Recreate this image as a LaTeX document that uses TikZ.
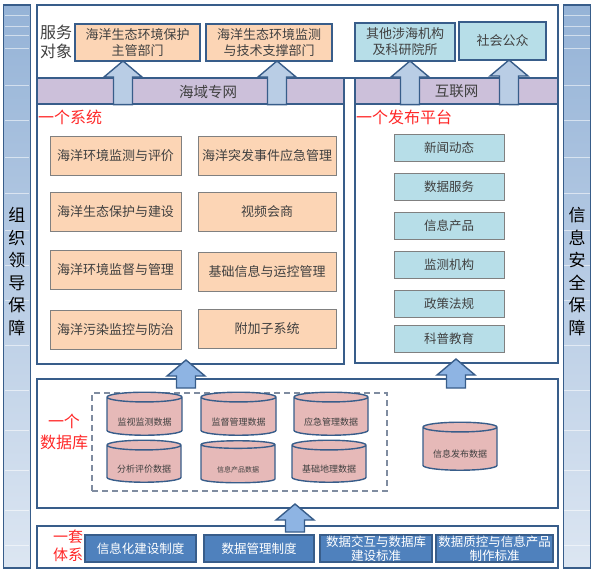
\documentclass[tikz,border=0pt]{standalone}
\usepackage{fontspec}
\setmainfont{Noto Sans CJK SC}
\usetikzlibrary{shapes.geometric,calc}

\definecolor{frameblue}{RGB}{56,93,138}
\definecolor{peach}{RGB}{252,213,181}
\definecolor{paleteal}{RGB}{183,222,232}
\definecolor{netlilac}{RGB}{204,192,218}
\definecolor{arrowpale}{RGB}{185,205,229}
\definecolor{arrowmid}{RGB}{142,180,227}
\definecolor{dbrose}{RGB}{230,185,184}
\definecolor{normblue}{RGB}{79,129,189}
\definecolor{bartop}{RGB}{149,179,215}
\definecolor{barbottom}{RGB}{220,230,242}
\definecolor{titlered}{RGB}{255,40,40}
\definecolor{inktext}{RGB}{64,64,64}
\definecolor{edgegrey}{RGB}{128,128,128}
\definecolor{dashgrey}{RGB}{127,140,160}

\tikzset{
  panel/.style={draw=frameblue, line width=1.8pt, inner sep=0},
  sidebar/.style={draw=frameblue, line width=1.2pt, top color=bartop, bottom color=barbottom,
    minimum width=27, minimum height=563, inner sep=0},
  sidetext/.style={align=center, font=\fontsize{17}{22.6}\selectfont},
  svcbox/.style={draw=frameblue, line width=1.6pt, align=center, inner sep=0,
    text=inktext, font=\fontsize{13}{16}\selectfont},
  netband/.style={draw=frameblue, line width=1.2pt, fill=netlilac, inner sep=0, minimum height=26},
  nettext/.style={text=inktext, font=\fontsize{14.5}{16}\selectfont},
  sysbox/.style={draw=edgegrey, line width=1pt, fill=peach, inner sep=0, minimum height=39,
    text=inktext, font=\fontsize{13}{15}\selectfont},
  pubbox/.style={draw=edgegrey, line width=1pt, fill=paleteal, inner sep=0, minimum width=110,
    minimum height=27, text=inktext, font=\fontsize{12.5}{15}\selectfont},
  redtitle/.style={text=titlered, align=center, inner sep=0, font=\fontsize{16}{21}\selectfont},
  dbcyl/.style={cylinder, shape border rotate=90, aspect=0.18, draw=frameblue, line width=1.4pt,
    fill=dbrose, inner sep=0, text height=17pt, text depth=0pt, text=inktext,
    font=\fontsize{9}{10}\selectfont},
  normbox/.style={draw=frameblue, line width=1.2pt, fill=normblue, inner sep=0, minimum height=27,
    text=white, align=center, font=\fontsize{12.5}{13.5}\selectfont},
  blockline/.style={draw=frameblue, line width=1.4pt, line join=miter},
}

% block arrow pointing up: #1 fill, #2 tip, #3 foot (only its y is used)
\newcommand{\blockup}[3]{%
  \draw[blockline, fill=#1] (#2) -- ($(#2)+(19,16)$) -- ($(#2)+(9.5,16)$)
    -- ($(#2 |- #3)+(9.5,0)$) -- ($(#2 |- #3)+(-9.5,0)$)
    -- ($(#2)+(-9.5,16)$) -- ($(#2)+(-19,16)$) -- cycle;}

\begin{document}
\begin{tikzpicture}[x=1pt, y=-1pt]
    \useasboundingbox (0,0) rectangle (595,574);
    % side bars
    \node[sidebar] (leftbar) at (17,286.5) {};
    \node[sidebar] (rightbar) at (577,286.5) {};
    \foreach \yy in {15,26,35,48,85,120,157,193,230,265,300,345,390,430,470,510,545}
      \draw[white, opacity=0.55, line width=0.6pt] (5,\yy) -- (29,\yy) (564,\yy) -- (590,\yy);
    \node[sidetext] (leftbartext) at (17,271.5) {组\\织\\领\\导\\保\\障};
    \node[sidetext] (rightbartext) at (577,271.5) {信\\息\\安\\全\\保\\障};

    % service objects
    \node[panel, minimum width=521, minimum height=73] (topframe) at (297.5,41.5) {};
    \node[text=inktext, align=center, inner sep=0, font=\fontsize{16}{19}\selectfont] (svctitle) at (56,42) {服务\\对象};
    \node[svcbox, fill=peach, minimum width=125, minimum height=37] (svc1) at (137.5,42.5) {海洋生态环境保护\\主管部门};
    \node[svcbox, fill=peach, minimum width=126, minimum height=37] (svc2) at (269,42.5) {海洋生态环境监测\\与技术支撑部门};
    \node[svcbox, fill=paleteal, minimum width=100, minimum height=38] (svc3) at (405,42) {其他涉海机构\\及科研院所};
    \node[svcbox, fill=paleteal, minimum width=87, minimum height=38] (svc4) at (502.5,41) {社会公众};

    % networks
    \node[netband, minimum width=307] (seanet) at (190.5,91) {};
    \node[nettext] (seanettext) at (208,92) {海域专网};
    \node[netband, minimum width=203, nettext] (webnet) at (456.5,91) {互联网};

    % one system
    \node[panel, minimum width=307, minimum height=260] (sysframe) at (190.5,234) {};
    \node[redtitle, anchor=west] (systitle) at (38,117) {一个系统};
    \foreach \name/\cx/\cy/\w/\txt in {sysA/115.5/155.5/131/海洋环境监测与评价,
        sysB/115.5/211.5/131/海洋生态保护与建设, sysC/115.5/270/131/海洋环境监督与管理,
        sysD/115.5/329.5/131/海洋污染监控与防治, sysE/267/155.5/138/海洋突发事件应急管理,
        sysF/267/211.5/138/视频会商, sysG/267/271.5/138/基础信息与运控管理,
        sysH/267/328.5/138/附加子系统}
      \node[sysbox, minimum width=\w] (\name) at (\cx,\cy) {\txt};

    % one publishing platform
    \node[panel, minimum width=203, minimum height=259] (pubframe) at (456.5,233.5) {};
    \node[redtitle, anchor=west] (pubtitle) at (356,117) {一个发布平台};
    \foreach \name/\cy/\txt in {pubA/147.5/新闻动态, pubB/186.5/数据服务, pubC/226/信息产品,
        pubD/265/监测机构, pubE/304/政策法规, pubF/338.5/科普教育}
      \node[pubbox] (\name) at (449,\cy) {\txt};

    % one database
    \node[panel, minimum width=521, minimum height=129] (dbframe) at (297.5,443.5) {};
    \node[redtitle] (dbtitle) at (64,432) {一个\\数据库};
    \node[draw=dashgrey, dashed, dash pattern=on 6pt off 4pt, line width=1.5pt,
      minimum width=295, minimum height=98, inner sep=0] (dbgroup) at (239.5,442) {};
    \node[dbcyl, minimum width=75, minimum height=43] (cylA) at (144.5,416.5) {监视监测数据};
    \node[dbcyl, minimum width=75, minimum height=43] (cylB) at (238.5,416.5) {监督管理数据};
    \node[dbcyl, minimum width=74, minimum height=43] (cylC) at (331,416.5) {应急管理数据};
    \node[dbcyl, minimum width=74, minimum height=42] (cylD) at (144,464) {分析评价数据};
    \node[dbcyl, minimum width=74, minimum height=42, font=\fontsize{7}{8}\selectfont] (cylE) at (238,464) {信息产品数据};
    \node[dbcyl, minimum width=74, minimum height=42] (cylF) at (329,464) {基础地理数据};
    \node[dbcyl, minimum width=74, minimum height=48] (cylG) at (460,449) {信息发布数据};

    % one set of norms
    \node[panel, minimum width=521, minimum height=42] (normframe) at (297.5,547) {};
    \node[redtitle, font=\fontsize{15}{18}\selectfont] (normtitle) at (68,546) {一套\\体系};
    \node[normbox, minimum width=111] (normA) at (140.5,548.5) {信息化建设制度};
    \node[normbox, minimum width=110] (normB) at (259,548.5) {数据管理制度};
    \node[normbox, minimum width=112] (normC) at (376,548.5) {数据交互与数据库\\建设标准};
    \node[normbox, minimum width=117] (normD) at (494.5,548.5) {数据质控与信息产品\\制作标准};

    % arrows
    \coordinate (up1) at (123,61);
    \coordinate (up2) at (277,61);
    \coordinate (up3) at (410,61);
    \coordinate (up4) at (509,60);
    \blockup{arrowpale}{up1}{seanet.south}
    \blockup{arrowpale}{up2}{seanet.south}
    \blockup{arrowpale}{up3}{webnet.south}
    \blockup{arrowpale}{up4}{webnet.south}
    \coordinate (sysup) at (186,360);
    \coordinate (sysfoot) at (186,388);
    \coordinate (pubup) at (456,359);
    \coordinate (normup) at (295,504);
    \coordinate (normfoot) at (295,532);
    \blockup{arrowmid}{sysup}{sysfoot}
    \blockup{arrowmid}{pubup}{sysfoot}
    \blockup{arrowmid}{normup}{normfoot}
\end{tikzpicture}
\end{document}
